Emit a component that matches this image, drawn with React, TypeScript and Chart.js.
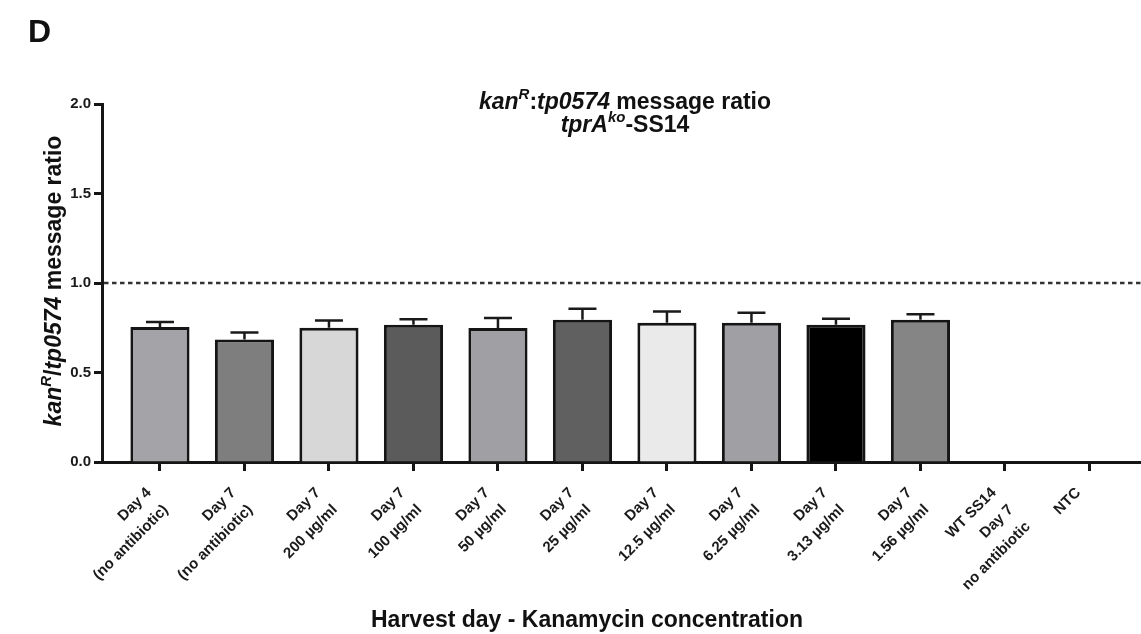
import React, { useEffect, useRef } from "react";
import { Chart, registerables } from "chart.js";

Chart.register(...registerables);

// ---------- data ----------
const categories: string[][] = [
  ["Day 4", "(no antibiotic)"],
  ["Day 7", "(no antibiotic)"],
  ["Day 7", "200 µg/ml"],
  ["Day 7", "100 µg/ml"],
  ["Day 7", "50 µg/ml"],
  ["Day 7", "25 µg/ml"],
  ["Day 7", "12.5 µg/ml"],
  ["Day 7", "6.25 µg/ml"],
  ["Day 7", "3.13 µg/ml"],
  ["Day 7", "1.56 µg/ml"],
  ["WT SS14", "Day 7", "no antibiotic"],
  ["NTC"],
];
const meanRatio: (number | null)[] = [0.754, 0.684, 0.75, 0.767, 0.748, 0.795, 0.778, 0.778, 0.767, 0.795, null, null];
const semRatio: (number | null)[] = [0.028, 0.039, 0.041, 0.03, 0.056, 0.061, 0.063, 0.056, 0.033, 0.031, null, null];
const barColors = [
  "#a4a4a8", "#7e7e7e", "#d7d7d7", "#5b5b5b", "#a0a0a4",
  "#606060", "#eaeaea", "#a0a0a4", "#000000", "#858585", "#ffffff", "#ffffff",
];
const yTickValues = [0, 0.5, 1.0, 1.5, 2.0];
const referenceRatio = 1.0;

const FONT = '"Liberation Sans", Arial, Helvetica, sans-serif';

type Seg = { text: string; italic?: boolean; sup?: boolean };

const titleLine1: Seg[] = [
  { text: "kan", italic: true },
  { text: "R", italic: true, sup: true },
  { text: ":" },
  { text: "tp0574", italic: true },
  { text: " message ratio" },
];
const titleLine2: Seg[] = [
  { text: "tprA", italic: true },
  { text: "ko", italic: true, sup: true },
  { text: "-SS14" },
];
const yTitle: Seg[] = [
  { text: "kan", italic: true },
  { text: "R", italic: true, sup: true },
  { text: "/" },
  { text: "tp0574", italic: true },
  { text: " message ratio" },
];
const xTitle = "Harvest day - Kanamycin concentration";
const panelLabel = "D";

function drawRich(ctx: CanvasRenderingContext2D, segs: Seg[], cx: number, baseline: number, size: number) {
  const fontFor = (s: Seg) =>
    `${s.italic ? "italic " : ""}bold ${s.sup ? Math.round(size * 0.65) : size}px ${FONT}`;
  const widths = segs.map((s) => {
    ctx.font = fontFor(s);
    return ctx.measureText(s.text).width;
  });
  const total = widths.reduce((a, b) => a + b, 0);
  let x = cx - total / 2;
  ctx.textAlign = "left";
  ctx.textBaseline = "alphabetic";
  segs.forEach((s, i) => {
    ctx.font = fontFor(s);
    ctx.fillText(s.text, x, s.sup ? baseline - size * 0.42 : baseline);
    x += widths[i];
  });
}

const decorPlugin = {
  id: "decor",
  beforeDatasetsDraw(chart: any) {
    const { ctx, chartArea, scales } = chart;
    const y = scales.y.getPixelForValue(referenceRatio);
    ctx.save();
    ctx.strokeStyle = "#333";
    ctx.lineWidth = 2.5;
    ctx.setLineDash([4.5, 3.5]);
    ctx.beginPath();
    ctx.moveTo(chartArea.left + 2, y);
    ctx.lineTo(chartArea.right, y);
    ctx.stroke();
    ctx.restore();
  },
  afterDatasetsDraw(chart: any) {
    const { ctx, scales } = chart;
    const meta = chart.getDatasetMeta(0);
    ctx.save();
    ctx.strokeStyle = "#1a1a1a";
    ctx.lineWidth = 2.5;
    meta.data.forEach((bar: any, i: number) => {
      const m = meanRatio[i];
      const e = semRatio[i];
      if (m == null || e == null) return;
      const x = bar.x;
      const y0 = scales.y.getPixelForValue(m);
      const y1 = scales.y.getPixelForValue(m + e);
      ctx.beginPath();
      ctx.moveTo(x, y0);
      ctx.lineTo(x, y1);
      ctx.moveTo(x - 14, y1);
      ctx.lineTo(x + 14, y1);
      ctx.stroke();
    });
    ctx.restore();
  },
  afterDraw(chart: any) {
    const { ctx } = chart;
    ctx.save();
    ctx.fillStyle = "#111";
    ctx.font = `bold 32px ${FONT}`;
    ctx.textAlign = "left";
    ctx.textBaseline = "alphabetic";
    ctx.fillText(panelLabel, 28, 42);
    drawRich(ctx, titleLine1, 625, 109, 23);
    drawRich(ctx, titleLine2, 625, 132, 23);
    ctx.font = `bold 23px ${FONT}`;
    ctx.textAlign = "center";
    ctx.fillText(xTitle, 587, 627);
    ctx.translate(61, 281);
    ctx.rotate(-Math.PI / 2);
    drawRich(ctx, yTitle, 0, 0, 23);
    ctx.restore();
  },
};

export default function App() {
  const ref = useRef<HTMLCanvasElement | null>(null);
  useEffect(() => {
    if (!ref.current) return;
    const chart = new Chart(ref.current, {
      type: "bar",
      data: {
        datasets: [
          {
            data: categories.map((_, i) => ({ x: i, y: meanRatio[i] })) as any,
            backgroundColor: barColors,
            borderColor: "#151515",
            borderWidth: 3,
            barPercentage: 0.7,
            categoryPercentage: 1,
          },
        ],
      },
      options: {
        responsive: false,
        animation: false,
        layout: { padding: { top: 104, left: 0, right: 0, bottom: 0 } },
        plugins: { legend: { display: false }, tooltip: { enabled: false }, title: { display: false } },
        scales: {
          x: {
            type: "linear",
            offset: false,
            min: -0.686,
            max: 11.61,
            afterBuildTicks: (s: any) => {
              s.ticks = categories.map((_, i) => ({ value: i }));
            },
            afterFit: (s: any) => {
              s.height = 172;
            },
            ticks: {
              autoSkip: false,
              minRotation: 45,
              maxRotation: 45,
              padding: 11,
              labelOffset: -11,
              color: "#1a1a1a",
              font: { family: FONT, size: 15, weight: "bold", lineHeight: 1.6 },
              callback: (v: any) => categories[Math.round(Number(v))] ?? "",
            },
            grid: { offset: false, drawOnChartArea: false, drawTicks: true, tickLength: 9, tickWidth: 3, color: "#151515" },
            border: { display: true, color: "#151515", width: 3 },
          },
          y: {
            min: 0,
            max: 2,
            afterBuildTicks: (s: any) => {
              s.ticks = yTickValues.map((v) => ({ value: v }));
            },
            afterFit: (s: any) => {
              s.width = 102;
            },
            ticks: {
              padding: 3,
              color: "#1a1a1a",
              font: { family: FONT, size: 15, weight: "bold" },
              callback: (v: any) => Number(v).toFixed(1),
            },
            grid: { drawOnChartArea: false, drawTicks: true, tickLength: 8, tickWidth: 3, color: "#151515" },
            border: { display: true, color: "#151515", width: 3 },
          },
        },
      } as any,
      plugins: [decorPlugin],
    });
    return () => chart.destroy();
  }, []);
  return (
    <div style={{ position: "fixed", left: 0, top: 0, width: 1141, height: 634, background: "#fff" }}>
      <canvas ref={ref} width={1141} height={634} style={{ display: "block" }} />
    </div>
  );
}
